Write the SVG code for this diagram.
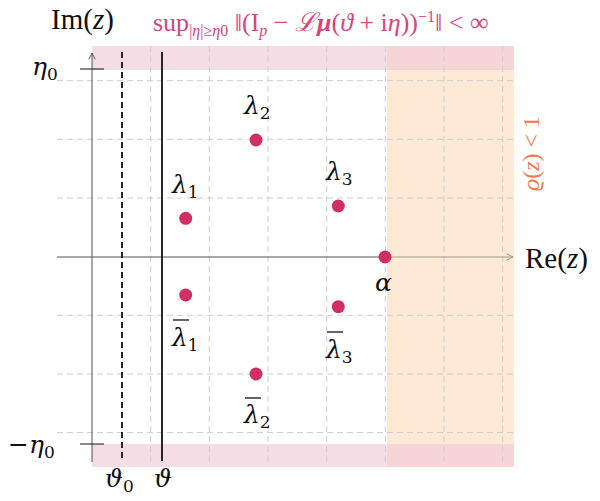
<svg xmlns="http://www.w3.org/2000/svg" width="600" height="501" viewBox="0 0 600 501">
<style>
.grid{stroke:#cfcfcf;stroke-width:1;stroke-dasharray:6 4;fill:none}
.axis{stroke:#555;stroke-width:1;fill:none}
.pt{fill:#cf2f62}
.lbl{font-family:"DejaVu Serif","Liberation Serif",serif;font-size:25px;fill:#111}
.rm{font-family:"Liberation Serif","DejaVu Serif",serif;font-size:29px;fill:#111}
.it{font-style:italic}
.sub{font-size:17px;font-style:normal}
.pink{font-family:"Liberation Serif","DejaVu Serif",serif;font-size:26px;fill:#d6477b}
.orange{font-family:"Liberation Serif","DejaVu Serif",serif;font-size:24px;fill:#f07a4e}
</style>
<defs>
<marker id="arr" viewBox="0 0 10 10" refX="9" refY="5" markerWidth="8" markerHeight="8" orient="auto" markerUnits="userSpaceOnUse">
<path d="M1,1 L9,5 L1,9" fill="none" stroke="context-stroke" stroke-width="1.2"/>
</marker>
</defs>
<rect width="600" height="501" fill="#fff"/>
<g id="regions">
<rect x="387" y="70" width="127" height="374" fill="#fee9d6"/>
<rect x="92" y="46" width="295" height="24" fill="#f5dde5"/>
<rect x="92" y="444" width="295" height="23" fill="#f5dde5"/>
<rect x="387" y="46" width="127" height="24" fill="#f5d5d6"/>
<rect x="387" y="444" width="127" height="23" fill="#f5d5d6"/>
</g>
<g id="grid">
<path class="grid" d="M57,80.7H514M57,139.3H514M57,198H514M57,315.3H514M57,374H514M57,432.6H514"/>
<path class="grid" d="M150.7,46V462M209.3,46V462M268,46V462M326.7,46V462M385.3,46V462M444,46V462M502.7,46V462"/>
</g>
<g id="connectors">
<line class="axis" x1="57" y1="257" x2="387" y2="257"/>
<line x1="387" y1="257" x2="513" y2="257" stroke="#a8998a" stroke-width="1" marker-end="url(#arr)"/>
<line class="axis" x1="92" y1="462" x2="92" y2="53" marker-end="url(#arr)"/>
<line x1="80" y1="69" x2="104" y2="69" stroke="#111" stroke-width="1"/>
<line x1="80" y1="444" x2="104" y2="444" stroke="#111" stroke-width="1"/>
<line x1="122" y1="52" x2="122" y2="461" stroke="#111" stroke-width="1.8" stroke-dasharray="6 4"/>
<line x1="162" y1="52" x2="162" y2="461" stroke="#111" stroke-width="1.8"/>
</g>
<g id="axis-labels">
<text class="rm" x="51" y="29">Im(<tspan class="it">z</tspan>)</text>
<text class="rm" x="525" y="268">Re(<tspan class="it">z</tspan>)</text>
<text class="lbl it" x="32" y="75">η<tspan class="sub" dy="5">0</tspan></text>
<text class="lbl" x="8" y="453">−<tspan class="it">η</tspan><tspan class="sub" dy="5">0</tspan></text>
<text class="lbl it" x="105" y="487">ϑ<tspan class="sub" dy="5">0</tspan></text>
<text class="lbl it" x="154" y="487">ϑ</text>
</g>
<g id="l1"><circle class="pt" cx="185.7" cy="218.3" r="6.5"/><text class="lbl it" x="172" y="193">λ<tspan class="sub" dy="5">1</tspan></text></g>
<g id="l1b"><circle class="pt" cx="185.7" cy="295" r="6.5"/><line x1="173" y1="320" x2="189" y2="320" stroke="#111" stroke-width="1.3"/><text class="lbl it" x="172" y="346">λ<tspan class="sub" dy="5">1</tspan></text></g>
<g id="l2"><circle class="pt" cx="256" cy="140" r="6.5"/><text class="lbl it" x="244" y="114">λ<tspan class="sub" dy="5">2</tspan></text></g>
<g id="l2b"><circle class="pt" cx="256" cy="374" r="6.5"/><line x1="245" y1="398" x2="261" y2="398" stroke="#111" stroke-width="1.3"/><text class="lbl it" x="244" y="423">λ<tspan class="sub" dy="5">2</tspan></text></g>
<g id="l3"><circle class="pt" cx="338.3" cy="206" r="6.5"/><text class="lbl it" x="326" y="180">λ<tspan class="sub" dy="5">3</tspan></text></g>
<g id="l3b"><circle class="pt" cx="338.3" cy="306.7" r="6.5"/><line x1="327" y1="332" x2="343" y2="332" stroke="#111" stroke-width="1.3"/><text class="lbl it" x="326" y="358">λ<tspan class="sub" dy="5">3</tspan></text></g>
<g id="alpha"><circle class="pt" cx="385" cy="257" r="6.5"/><text class="lbl it" x="375" y="291">α</text></g>
<g id="sup-label"><text class="pink" x="153" y="31">sup<tspan font-size="16" dy="5">|<tspan font-style="italic">η</tspan>|≥<tspan font-style="italic">η</tspan>0</tspan><tspan dy="-5"> ‖(I</tspan><tspan font-size="16" font-style="italic" dy="5">p</tspan><tspan dy="-5"> − </tspan><tspan font-style="italic">ℒ</tspan><tspan font-weight="bold" font-style="italic">μ</tspan>(<tspan font-style="italic">ϑ</tspan> + i<tspan font-style="italic">η</tspan>))<tspan font-size="16" dy="-9">−1</tspan><tspan dy="9">‖ &lt; ∞</tspan></text></g>
<g id="rho-label"><text class="orange" transform="translate(539,191) rotate(-90)"><tspan font-style="italic">ϱ</tspan>(<tspan font-style="italic">z</tspan>) &lt; 1</text></g>
</svg>
